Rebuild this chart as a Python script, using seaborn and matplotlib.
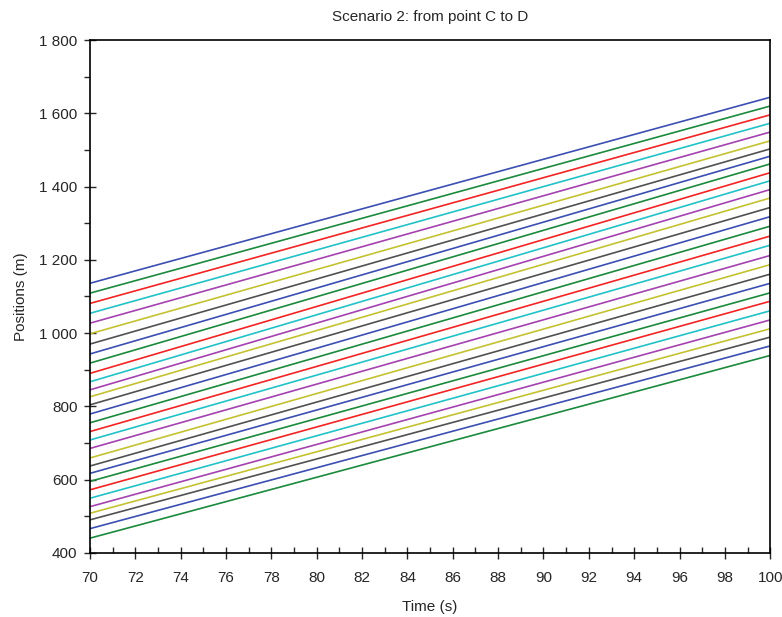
import numpy as np
import pandas as pd
import seaborn as sns
import matplotlib
matplotlib.use("Agg")
import matplotlib.pyplot as plt
from matplotlib.ticker import FuncFormatter, MultipleLocator

# Time window (s)
times = [70, 100]

# Positions (m) of each vehicle at t=70 and t=100, top line first
pos_start = [1136, 1109, 1081, 1054, 1027, 998, 970, 943, 918, 890,
             867, 845, 826, 804, 779, 755, 731, 708, 685, 659,
             637, 617, 595, 572, 549, 526, 508, 490, 466, 440]
pos_end = [1644, 1620, 1596, 1573, 1549, 1525, 1503, 1483, 1462, 1438,
           1416, 1392, 1369, 1343, 1318, 1292, 1265, 1240, 1212, 1187,
           1161, 1136, 1110, 1087, 1061, 1036, 1012, 989, 965, 939]

# Scilab-like colour cycle
colors = ["#3b4fb2", "#1b8a3c", "#f22424", "#22c2c8", "#a442b0", "#c4c232", "#515151"]

rows = []
for i, (a, b) in enumerate(zip(pos_start, pos_end)):
    rows.append({"vehicle": i, "time": times[0], "position": a})
    rows.append({"vehicle": i, "time": times[1], "position": b})
df = pd.DataFrame(rows)

palette = {i: colors[i % len(colors)] for i in range(len(pos_start))}

sns.set_style("white")
plt.rcParams["font.family"] = ["Liberation Sans", "DejaVu Sans"]

fig = plt.figure(figsize=(7.82, 6.17), dpi=100)
ax = fig.add_axes([0.115, 0.104, 0.870, 0.831])

sns.lineplot(data=df, x="time", y="position", hue="vehicle", palette=palette,
             legend=False, linewidth=1.2, ax=ax)

ax.set_xlim(70, 100)
ax.set_ylim(400, 1800)
ax.xaxis.set_major_locator(MultipleLocator(2))
ax.xaxis.set_minor_locator(MultipleLocator(1))
ax.yaxis.set_major_locator(MultipleLocator(200))
ax.yaxis.set_minor_locator(MultipleLocator(100))
ax.yaxis.set_major_formatter(FuncFormatter(lambda v, p: f"{int(v):,}".replace(",", " ")))

ax.tick_params(axis="x", which="major", direction="inout", length=8, width=1, labelsize=11, pad=9)
ax.tick_params(axis="x", which="minor", direction="in", length=4, width=1)
ax.tick_params(axis="y", which="major", direction="inout", length=8, width=1, labelsize=11, pad=5)
ax.tick_params(axis="y", which="minor", direction="out", length=4, width=1)
ax.xaxis.set_ticks_position("bottom")
ax.yaxis.set_ticks_position("left")

for s in ax.spines.values():
    s.set_color("black")
    s.set_linewidth(1.2)

ax.set_title("Scenario 2: from point C to D", fontsize=11, pad=14)
ax.set_xlabel("Time (s)", fontsize=11, labelpad=11)
ax.set_ylabel("Positions (m)", fontsize=11, labelpad=8)

fig.savefig("out.png", dpi=100)
